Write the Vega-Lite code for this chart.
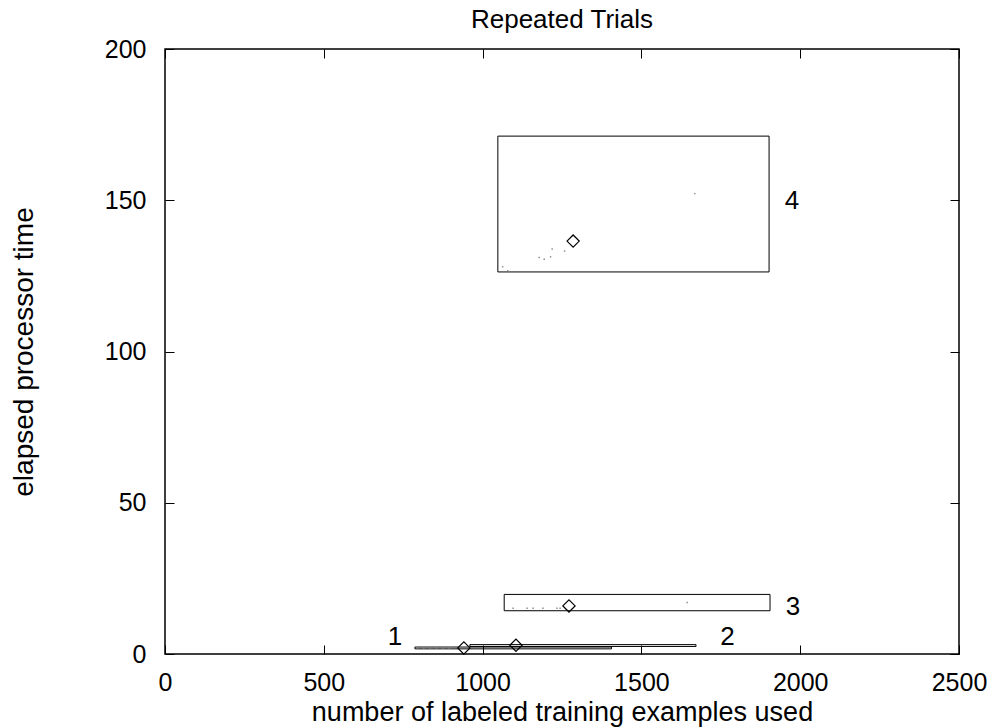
{
  "$schema": "https://vega.github.io/schema/vega-lite/v6.json",
  "width": 794,
  "height": 605,
  "autosize": {"type": "none"},
  "padding": {"left": 165, "top": 49, "right": 36, "bottom": 74},
  "background": "white",
  "title": {"text": "Repeated Trials", "font": "Liberation Sans", "fontSize": 26, "fontWeight": "normal", "color": "black", "anchor": "middle", "frame": "group", "baseline": "alphabetic", "offset": -17},
  "config": {
    "view": {"stroke": "black", "strokeWidth": 1.5},
    "axis": {"grid": false, "domain": false, "tickColor": "black", "tickWidth": 1, "tickSize": -9, "labelFont": "Liberation Sans", "labelFontSize": 25, "labelColor": "black", "titleFont": "Liberation Sans", "titleFontSize": 27, "titleFontWeight": "normal", "titleColor": "black"}
  },
  "datasets": {
    "boxes": [
      {"trial": "1", "xlo": 787, "xhi": 1406, "ylo": 1.7, "yhi": 2.3},
      {"trial": "2", "xlo": 960, "xhi": 1672, "ylo": 2.5, "yhi": 3.1},
      {"trial": "3", "xlo": 1068, "xhi": 1905, "ylo": 14.3, "yhi": 19.7},
      {"trial": "4", "xlo": 1048, "xhi": 1902, "ylo": 126.3, "yhi": 171.2}
    ],
    "means": [
      {"trial": "1", "x": 941, "y": 2.0},
      {"trial": "2", "x": 1105, "y": 2.9},
      {"trial": "3", "x": 1272, "y": 15.9},
      {"trial": "4", "x": 1285, "y": 136.5}
    ],
    "labels": [
      {"trial": "1", "x": 724, "y": 5.5},
      {"trial": "2", "x": 1771, "y": 5.5},
      {"trial": "3", "x": 1977, "y": 15.6},
      {"trial": "4", "x": 1974, "y": 149.8}
    ],
    "points": [
      {"x": 1063, "y": 128.0}, {"x": 1079, "y": 126.7}, {"x": 1178, "y": 131.1}, {"x": 1194, "y": 130.5},
      {"x": 1214, "y": 131.3}, {"x": 1219, "y": 133.9}, {"x": 1258, "y": 133.2}, {"x": 1668, "y": 152.2},
      {"x": 1096, "y": 15.1}, {"x": 1140, "y": 15.1}, {"x": 1159, "y": 15.1}, {"x": 1190, "y": 15.1},
      {"x": 1234, "y": 15.1}, {"x": 1244, "y": 15.1}, {"x": 1644, "y": 17.0},
      {"x": 795, "y": 2.0}, {"x": 815, "y": 2.0}, {"x": 835, "y": 2.0}, {"x": 855, "y": 2.0}, {"x": 875, "y": 2.0}, {"x": 895, "y": 2.0}
    ]
  },
  "resolve": {"axis": {"x": "independent", "y": "independent"}},
  "layer": [
    {
      "data": {"name": "boxes"},
      "mark": {"type": "rect", "fill": "white", "fillOpacity": 0, "stroke": "black", "strokeWidth": 1},
      "encoding": {
        "x": {"field": "xlo", "type": "quantitative", "scale": {"domain": [0, 2500], "nice": false, "zero": false}, "axis": {"orient": "bottom", "values": [0, 500, 1000, 1500, 2000, 2500], "format": "d", "labelPadding": 25, "title": "number of labeled training examples used", "titleBaseline": "alphabetic", "titleY": 66, "labelFlush": false, "labelOverlap": false}},
        "x2": {"field": "xhi"},
        "y": {"field": "ylo", "type": "quantitative", "scale": {"domain": [0, 200], "nice": false, "zero": false}, "axis": {"orient": "left", "values": [0, 50, 100, 150, 200], "format": "d", "labelPadding": 28, "title": "elapsed processor time", "titleBaseline": "alphabetic", "titleX": -133, "titleFontSize": 28, "labelFlush": false, "labelOverlap": false}},
        "y2": {"field": "yhi"}
      }
    },
    {
      "data": {"name": "points"},
      "mark": {"type": "point", "shape": "square", "filled": true, "size": 2, "color": "#888888", "opacity": 1},
      "encoding": {
        "x": {"field": "x", "type": "quantitative", "axis": {"orient": "top", "values": [0, 500, 1000, 1500, 2000, 2500], "labels": false, "title": null}},
        "y": {"field": "y", "type": "quantitative", "axis": {"orient": "right", "values": [0, 50, 100, 150, 200], "labels": false, "title": null}}
      }
    },
    {
      "data": {"name": "means"},
      "mark": {"type": "point", "shape": "diamond", "filled": false, "size": 150, "stroke": "black", "strokeWidth": 1.2, "opacity": 1},
      "encoding": {
        "x": {"field": "x", "type": "quantitative", "axis": null},
        "y": {"field": "y", "type": "quantitative", "axis": null}
      }
    },
    {
      "data": {"name": "labels"},
      "mark": {"type": "text", "font": "Liberation Sans", "fontSize": 26, "color": "black", "align": "center", "baseline": "middle"},
      "encoding": {
        "x": {"field": "x", "type": "quantitative", "axis": null},
        "y": {"field": "y", "type": "quantitative", "axis": null},
        "text": {"field": "trial"}
      }
    }
  ]
}
